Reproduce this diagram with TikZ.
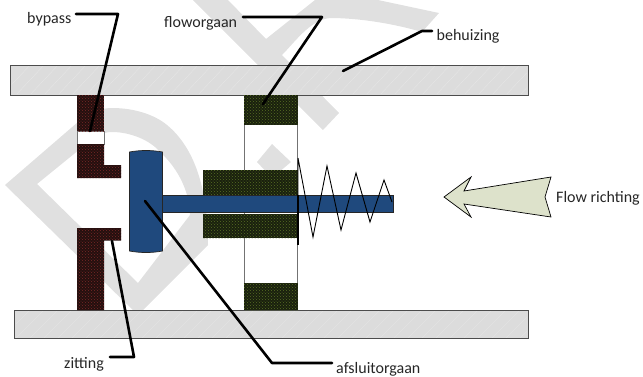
\documentclass[tikz,border=0pt]{standalone}
\usepackage{fontspec}
\setmainfont{Carlito}
\usetikzlibrary{patterns}
\definecolor{wm}{HTML}{E0E0E0}
\definecolor{plategray}{HTML}{DCDCDC}
\definecolor{rodblue}{HTML}{1F497D}
\definecolor{redbase}{HTML}{24100F}
\definecolor{reddot}{HTML}{7A2626}
\definecolor{greenbase}{HTML}{1A200E}
\definecolor{greendot}{HTML}{566F22}
\definecolor{arrowfill}{HTML}{DDE2CB}
\tikzset{
  lbl/.style={font=\fontsize{16}{18}\selectfont, anchor=base west, inner sep=0pt, text=black!85},
  leader/.style={draw=black, line width=2.6pt, line cap=round, line join=round},
  plate/.style={fill=plategray, draw=black!70, line width=0.9pt},
  redpart/.style={fill=redbase, postaction={pattern=crosshatch dots, pattern color=reddot}},
  greenpart/.style={fill=greenbase, postaction={pattern=crosshatch dots, pattern color=greendot}},
  bluepart/.style={fill=rodblue, draw=black!85, line width=0.7pt},
  openbox/.style={draw=black!55, line width=0.8pt},
  hatchline/.style={draw=white!35!plategray, line width=0.3pt}
}
\begin{document}
\begin{tikzpicture}[x=1pt,y=-1pt]
\useasboundingbox (0,0) rectangle (643,376);
% watermark
\fill[wm,even odd rule] (5,185) -- (78,122) .. controls (92,111) and (102,108) .. (112,108)
  .. controls (135,108) and (155,115) .. (167,125) .. controls (195,148) and (208,190) .. (208,245)
  -- (143,310) -- (138,315) -- cycle
  (37,184) -- (85,145) .. controls (95,136) and (103,132) .. (112,132)
  .. controls (130,132) and (150,140) .. (160,152) .. controls (180,170) and (190,195) .. (190,215)
  -- (138,283) -- cycle;
\fill[wm] (193,0) -- (228,0) -- (266,39) -- (315,0) -- (378,0) -- (439,13) -- (422,32)
  .. controls (395,24) and (360,18) .. (330,18) .. controls (310,20) and (295,42) .. (282,55)
  -- (339,113) -- (323,130) -- cycle;
\fill[wm] (272,144) -- (257,162) -- (272,178) -- (291,162) -- cycle;
% plates
\path[plate] (10,65) rectangle (528,95);
\path[plate] (14.5,310) rectangle (528,338.5);
\begin{scope}
  \clip (11.5,66.5) rectangle (526.5,93.5);
  \foreach \i in {0,14,...,560} \draw[hatchline] (\i,97) -- ++(32,-34);
\end{scope}
\begin{scope}
  \clip (16,311.5) rectangle (526.5,337);
  \foreach \i in {0,14,...,560} \draw[hatchline] (\i,340) -- ++(32,-32);
\end{scope}
% bypass body
\fill[white] (77,131) rectangle (104,144);
\draw[openbox] (77,131) rectangle (104,144);
\path[redpart] (77,95) rectangle (104,131);
\path[redpart] (77,144) -- (104,144) -- (104,165) -- (121,165) -- (121,178) -- (77,178) -- cycle;
\path[redpart] (77,228) -- (121,228) -- (121,240.5) -- (104,240.5) -- (104,310) -- (77,310) -- cycle;
% flow body
\draw[openbox] (244,124) rectangle (297.5,283);
\path[greenpart] (244,95) rectangle (297.5,124.5);
\path[greenpart] (244,283) rectangle (297.5,310);
\path[greenpart] (203,170) rectangle (297.5,195);
\path[greenpart] (203,214) rectangle (297.5,238);
% valve
\path[bluepart] (162,195) rectangle (393,212);
\path[bluepart] (129.5,152) .. controls (140,150) and (152,150) .. (162.5,152) -- (162.5,251)
  .. controls (152,253) and (140,253) .. (129.5,251) -- cycle;
% spring
\draw[black,line width=1.7pt] (298,195) -- (298,245);
\draw[black,line width=0.9pt,line join=miter] (298,158) -- (298,195) (298,158) -- (313,237) -- (327,166) -- (341,230) -- (356,173) -- (370,222) -- (384,180) -- (392,202);
% arrow
\path[fill=arrowfill,draw=black,line width=0.7pt] (444,197) -- (471,177) -- (464,191) -- (551,177) -- (545,197) -- (551,217) -- (464,204) -- (471,217) -- cycle;
% labels
\node[lbl] (bypass) at (27,23) {bypass};
\node[lbl] (flow) at (164,27) {floworgaan};
\node[lbl] (behuizing) at (436.5,40) {behuizing};
\node[lbl] (zitting) at (64,368) {zitting};
\node[lbl] (afsluit) at (336,373) {afsluitorgaan};
\node[lbl] (richting) at (556,202) {Flow richting};
% leader waypoints
\coordinate (b1) at (76,14); \coordinate (b2) at (118,14); \coordinate (b3) at (90,131);
\coordinate (f1) at (243,17); \coordinate (f2) at (322,17); \coordinate (f3) at (263,104);
\coordinate (h1) at (432,31); \coordinate (h2) at (422,31); \coordinate (h3) at (343,71);
\coordinate (z1) at (110,357); \coordinate (z2) at (134,357); \coordinate (z3) at (112,241);
\coordinate (a1) at (332,363); \coordinate (a2) at (272,363); \coordinate (a3) at (145,201);
\draw[leader] (b1) -- (b2) -- (b3);
\draw[leader] (f1) -- (f2) -- (f3);
\draw[leader] (h1) -- (h2) -- (h3);
\draw[leader] (z1) -- (z2) -- (z3);
\draw[leader] (a1) -- (a2) -- (a3);
\end{tikzpicture}
\end{document}
